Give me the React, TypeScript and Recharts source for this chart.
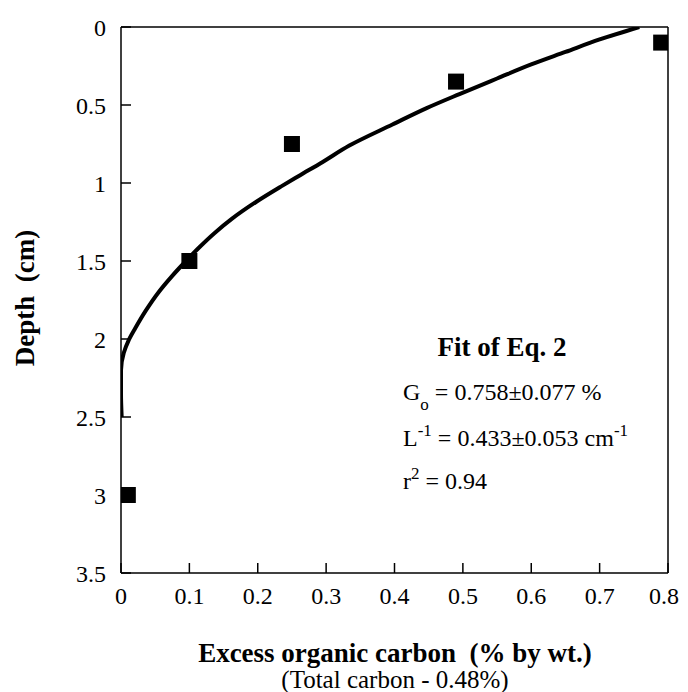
import React from 'react';
import { ScatterChart, Scatter, XAxis, YAxis } from 'recharts';

// Measured data points: excess organic carbon (% by wt.) vs depth (cm)
const obsCarbon = [0.79, 0.49, 0.25, 0.1, 0.01];
const obsDepth = [0.1, 0.35, 0.75, 1.5, 3.0];

// Fit curve (Eq. 2)
const fitCarbon = [0.758, 0.70, 0.65, 0.60, 0.55, 0.495, 0.447, 0.397, 0.334, 0.295, 0.262, 0.235, 0.198, 0.162, 0.137, 0.115, 0.095, 0.074, 0.055, 0.036, 0.021, 0.011, 0.004, 0.0, 0.0, 0.001];
const fitDepth = [0.0, 0.08, 0.16, 0.24, 0.33, 0.43, 0.52, 0.625, 0.76, 0.865, 0.95, 1.02, 1.12, 1.23, 1.32, 1.41, 1.5, 1.6, 1.7, 1.82, 1.93, 2.01, 2.09, 2.2, 2.35, 2.5];

const xTicks = [0, 0.1, 0.2, 0.3, 0.4, 0.5, 0.6, 0.7, 0.8];
const yTicks = [0, 0.5, 1, 1.5, 2, 2.5, 3, 3.5];

const obsData = obsCarbon.map((c, i) => ({ x: c, y: obsDepth[i] }));
const fitData = fitCarbon.map((c, i) => ({ x: c, y: fitDepth[i] }));

const W = 672;
const H = 684;
const FONT = '"Liberation Serif", "Times New Roman", serif';

const Square = (props: any) => {
  const { cx, cy } = props;
  if (cx == null || cy == null) return <g />;
  const s = 16;
  return <rect x={cx - s / 2} y={cy - s / 2} width={s} height={s} fill="#000" />;
};

const fmt = (v: number) => (v === 0 ? '0' : String(v));

const XTick = (props: any) => {
  const { x, y, payload } = props;
  const label = fmt(payload.value);
  const half = 15;
  const overflow = x + half > W - 1;
  return (
    <text
      x={overflow ? W - 1 : x}
      y={y}
      dy="0.71em"
      textAnchor={overflow ? 'end' : 'middle'}
      fontFamily={FONT}
      fontSize={24}
      fill="#000"
    >
      {label}
    </text>
  );
};

export default function App() {
  const tickStyle = { fontFamily: FONT, fontSize: 24, fill: '#000' };
  const lineStyle = { stroke: '#000', strokeWidth: 1.5 };
  return (
    <div style={{ position: 'relative', width: W, height: H }}>
      <ScatterChart
        width={W}
        height={H}
        margin={{ top: 18, right: 11, bottom: 79, left: 53 }}
      >
        <XAxis
          xAxisId="b"
          dataKey="x"
          type="number"
          domain={[0, 0.8]}
          ticks={xTicks}
          interval={0}
          height={40}
          tickSize={-10}
          tickMargin={24}
          axisLine={lineStyle}
          tickLine={lineStyle}
          tick={XTick}
          allowDataOverflow
        />
        <XAxis
          xAxisId="t"
          orientation="top"
          type="number"
          domain={[0, 0.8]}
          ticks={xTicks}
          interval={0}
          height={1}
          tickSize={-10}
          axisLine={lineStyle}
          tickLine={lineStyle}
          tick={false}
          allowDataOverflow
        />
        <YAxis
          yAxisId="l"
          dataKey="y"
          type="number"
          reversed
          domain={[0, 3.5]}
          ticks={yTicks}
          tickFormatter={fmt}
          interval={0}
          width={60}
          tickSize={-10}
          tickMargin={25}
          axisLine={lineStyle}
          tickLine={lineStyle}
          tick={tickStyle}
          allowDataOverflow
        />
        <YAxis
          yAxisId="r"
          orientation="right"
          type="number"
          reversed
          domain={[0, 3.5]}
          ticks={yTicks}
          interval={0}
          width={1}
          tickSize={-10}
          axisLine={lineStyle}
          tickLine={lineStyle}
          tick={false}
          allowDataOverflow
        />
        <Scatter
          xAxisId="b"
          yAxisId="l"
          data={fitData}
          line={{ stroke: '#000', strokeWidth: 4 }}
          lineType="joint"
          lineJointType="monotoneY"
          shape={() => <g />}
          isAnimationActive={false}
        />
        <Scatter
          xAxisId="b"
          yAxisId="l"
          data={obsData}
          shape={Square}
          isAnimationActive={false}
        />
      </ScatterChart>
      <svg
        width={W}
        height={H}
        style={{ position: 'absolute', left: 0, top: 0, pointerEvents: 'none' }}
        fontFamily={FONT}
      >
        <text
          x={17}
          y={290}
          transform="rotate(-90 17 290)"
          textAnchor="middle"
          dominantBaseline="central"
          fontSize={27}
          fontWeight="bold"
        >
          Depth{'\u00a0\u00a0'}(cm)
        </text>
        <text x={387} y={654} textAnchor="middle" fontSize={27} fontWeight="bold">
          Excess organic carbon{'\u00a0\u00a0'}(% by wt.)
        </text>
        <text x={387} y={680} textAnchor="middle" fontSize={25}>
          (Total carbon - 0.48%)
        </text>
        <text x={494} y={348} textAnchor="middle" fontSize={27} fontWeight="bold">
          Fit of Eq. 2
        </text>
        <text x={395} y={392} fontSize={24}>
          G<tspan fontSize={17} dy={10}>o</tspan>
          <tspan dy={-10}> = 0.758±0.077 %</tspan>
        </text>
        <text x={395} y={438} fontSize={24}>
          L<tspan fontSize={17} dy={-10}>-1</tspan>
          <tspan dy={10}> = 0.433±0.053 cm</tspan>
          <tspan fontSize={17} dy={-10}>-1</tspan>
        </text>
        <text x={395} y={481} fontSize={24}>
          r<tspan fontSize={17} dy={-10}>2</tspan>
          <tspan dy={10}> = 0.94</tspan>
        </text>
      </svg>
    </div>
  );
}
